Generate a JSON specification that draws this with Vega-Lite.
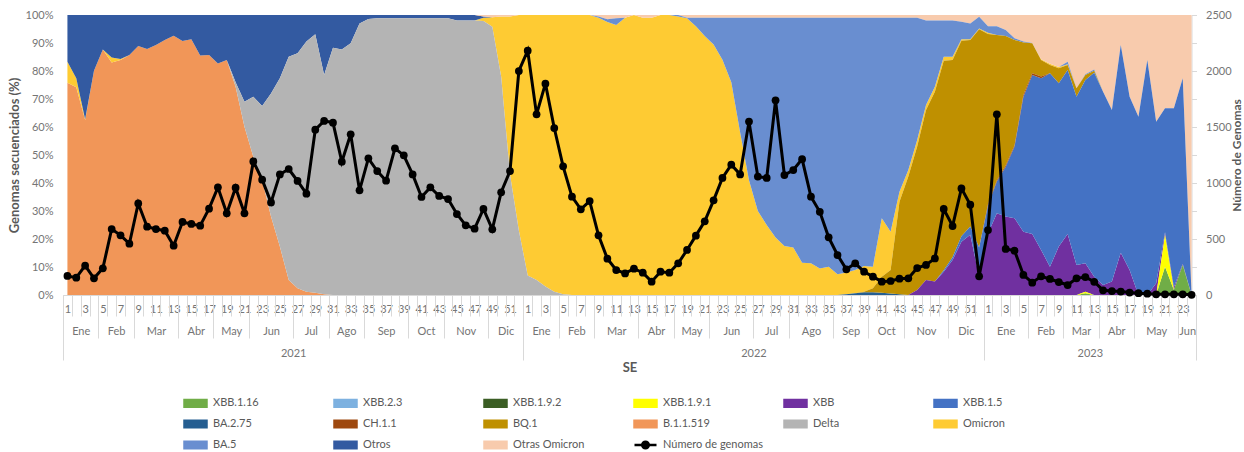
{
  "$schema": "https://vega.github.io/schema/vega-lite/v6.json",
  "width": 1133,
  "height": 280,
  "autosize": {"type": "none"},
  "padding": {"left": 63, "top": 15, "right": 48, "bottom": 157},
  "background": "white",
  "config": {
    "view": {"stroke": null},
    "font": "Lato",
    "axis": {"labelFont": "Lato", "titleFont": "Lato", "labelColor": "#757575", "titleColor": "#595959", "labelFontSize": 11, "titleFontSize": 13, "titleFontWeight": "bold", "grid": false, "labelFlush": false, "labelOverlap": false, "labelBound": false}
  },
  "datasets": {
    "series": [
      {"k": "a", "name": "XBB.1.16", "s": 1},
      {"k": "b", "name": "XBB.2.3", "s": 2},
      {"k": "c", "name": "XBB.1.9.2", "s": 3},
      {"k": "d", "name": "XBB.1.9.1", "s": 4},
      {"k": "e", "name": "XBB", "s": 5},
      {"k": "f", "name": "XBB.1.5", "s": 6},
      {"k": "g", "name": "BA.2.75", "s": 7},
      {"k": "h", "name": "CH.1.1", "s": 8},
      {"k": "k", "name": "BQ.1", "s": 9},
      {"k": "m", "name": "B.1.1.519", "s": 10},
      {"k": "dl", "name": "Delta", "s": 11},
      {"k": "o", "name": "Omicron", "s": 12},
      {"k": "b5", "name": "BA.5", "s": 13},
      {"k": "ot", "name": "Otros", "s": 14},
      {"k": "oo", "name": "Otras Omicron", "s": 15}
    ],
    "w": [
      {"i": 0, "n": 170, "m": 75.8, "o": 7.5, "ot": 16.7},
      {"i": 1, "n": 155, "m": 74.2, "o": 3.2, "ot": 22.6},
      {"i": 2, "n": 262, "m": 62.5, "o": 0.3, "ot": 37.2},
      {"i": 3, "n": 149, "m": 80.1, "ot": 19.9},
      {"i": 4, "n": 238, "m": 87.7, "ot": 12.3},
      {"i": 5, "n": 589, "m": 83, "o": 1.8, "ot": 15.2},
      {"i": 6, "n": 533, "m": 83.9, "o": 0.4, "ot": 15.7},
      {"i": 7, "n": 458, "m": 85.7, "ot": 14.3},
      {"i": 8, "n": 818, "m": 88.9, "ot": 11.1},
      {"i": 9, "n": 610, "m": 87.9, "ot": 12.1},
      {"i": 10, "n": 589, "m": 89.3, "ot": 10.7},
      {"i": 11, "n": 574, "m": 91.1, "ot": 8.9},
      {"i": 12, "n": 440, "m": 92.6, "ot": 7.4},
      {"i": 13, "n": 652, "m": 90.7, "ot": 9.3},
      {"i": 14, "n": 634, "m": 91.3, "ot": 8.7},
      {"i": 15, "n": 619, "m": 85.5, "ot": 14.5},
      {"i": 16, "n": 771, "m": 85.7, "ot": 14.3},
      {"i": 17, "n": 961, "m": 82.7, "ot": 17.3},
      {"i": 18, "n": 729, "m": 83.9, "ot": 16.1},
      {"i": 19, "n": 958, "m": 74.4, "dl": 1.6, "ot": 24},
      {"i": 20, "n": 729, "m": 60.1, "dl": 8.9, "ot": 31},
      {"i": 21, "n": 1193, "m": 49.4, "dl": 21.4, "ot": 29.2},
      {"i": 22, "n": 1030, "m": 41.1, "dl": 26.4, "ot": 32.5},
      {"i": 23, "n": 827, "m": 28, "dl": 44, "ot": 28},
      {"i": 24, "n": 1077, "m": 17.3, "dl": 60.1, "ot": 22.6},
      {"i": 25, "n": 1125, "m": 5.4, "dl": 79.7, "ot": 14.9},
      {"i": 26, "n": 1018, "m": 2.4, "dl": 83.9, "ot": 13.7},
      {"i": 27, "n": 905, "m": 1.2, "dl": 89.3, "ot": 9.5},
      {"i": 28, "n": 1476, "m": 0.8, "dl": 92.3, "ot": 6.9},
      {"i": 29, "n": 1554, "m": 0.3, "dl": 78.3, "ot": 21.4},
      {"i": 30, "n": 1539, "dl": 88.3, "ot": 11.7},
      {"i": 31, "n": 1190, "dl": 87.7, "ot": 12.3},
      {"i": 32, "n": 1435, "dl": 89.9, "ot": 10.1},
      {"i": 33, "n": 935, "dl": 97, "ot": 3},
      {"i": 34, "n": 1220, "dl": 98.6, "ot": 1.4},
      {"i": 35, "n": 1107, "dl": 98.8, "ot": 1.2},
      {"i": 36, "n": 1021, "dl": 98.8, "ot": 1.2},
      {"i": 37, "n": 1310, "dl": 98.8, "ot": 1.2},
      {"i": 38, "n": 1247, "dl": 98.8, "ot": 1.2},
      {"i": 39, "n": 1077, "dl": 98.8, "ot": 1.2},
      {"i": 40, "n": 875, "dl": 98.8, "ot": 1.2},
      {"i": 41, "n": 961, "dl": 98.8, "ot": 1.2},
      {"i": 42, "n": 884, "dl": 98.8, "ot": 1.2},
      {"i": 43, "n": 857, "dl": 98.8, "ot": 1.2},
      {"i": 44, "n": 723, "dl": 98, "ot": 2},
      {"i": 45, "n": 622, "dl": 98, "ot": 2},
      {"i": 46, "n": 592, "dl": 98, "ot": 2},
      {"i": 47, "n": 768, "dl": 97.9, "o": 1.1, "ot": 0.5, "oo": 0.5},
      {"i": 48, "n": 586, "dl": 95.8, "o": 3.4, "oo": 0.8},
      {"i": 49, "n": 917, "dl": 78, "o": 21.5, "oo": 0.5},
      {"i": 50, "n": 1107, "dl": 43, "o": 56.5, "oo": 0.5},
      {"i": 51, "n": 2000, "dl": 23, "o": 77},
      {"i": 52, "n": 2181, "dl": 7, "o": 93},
      {"i": 53, "n": 1613, "dl": 5.4, "o": 94.6},
      {"i": 54, "n": 1887, "dl": 3, "o": 97},
      {"i": 55, "n": 1491, "dl": 1.2, "o": 98.8},
      {"i": 56, "n": 1149, "dl": 0.3, "o": 99.7},
      {"i": 57, "n": 878, "o": 100},
      {"i": 58, "n": 765, "o": 100},
      {"i": 59, "n": 839, "o": 100},
      {"i": 60, "n": 533, "o": 99, "b5": 0.5, "oo": 0.5},
      {"i": 61, "n": 324, "o": 97.5, "b5": 1, "oo": 1.5},
      {"i": 62, "n": 223, "o": 96.4, "b5": 2.4, "oo": 1.2},
      {"i": 63, "n": 193, "o": 99, "oo": 1},
      {"i": 64, "n": 235, "o": 100},
      {"i": 65, "n": 199, "o": 99, "oo": 1},
      {"i": 66, "n": 119, "o": 99, "oo": 1},
      {"i": 67, "n": 208, "o": 100},
      {"i": 68, "n": 199, "o": 100},
      {"i": 69, "n": 283, "o": 99.5, "b5": 0.5},
      {"i": 70, "n": 402, "o": 98.8, "b5": 0.2, "oo": 1},
      {"i": 71, "n": 530, "o": 96, "b5": 3, "oo": 1},
      {"i": 72, "n": 658, "o": 92.5, "b5": 6.5, "oo": 1},
      {"i": 73, "n": 845, "o": 89.5, "b5": 9.5, "oo": 1},
      {"i": 74, "n": 1045, "o": 84, "b5": 15, "oo": 1},
      {"i": 75, "n": 1164, "o": 76, "b5": 23, "oo": 1},
      {"i": 76, "n": 1077, "o": 58, "b5": 41, "oo": 1},
      {"i": 77, "n": 1548, "o": 41, "b5": 58, "oo": 1},
      {"i": 78, "n": 1057, "o": 30, "b5": 69, "oo": 1},
      {"i": 79, "n": 1045, "o": 25, "b5": 74, "oo": 1},
      {"i": 80, "n": 1738, "o": 20.5, "b5": 78.5, "oo": 1},
      {"i": 81, "n": 1071, "o": 17.5, "b5": 81.5, "oo": 1},
      {"i": 82, "n": 1116, "o": 17, "b5": 82, "oo": 1},
      {"i": 83, "n": 1213, "o": 11.5, "b5": 87.5, "oo": 1},
      {"i": 84, "n": 878, "o": 11.3, "b5": 87.7, "oo": 1},
      {"i": 85, "n": 743, "o": 9.5, "b5": 89.5, "oo": 1},
      {"i": 86, "n": 515, "o": 10.1, "b5": 88.9, "oo": 1},
      {"i": 87, "n": 357, "o": 7.4, "b5": 91.6, "oo": 1},
      {"i": 88, "n": 229, "g": 0.3, "o": 7.7, "b5": 91, "oo": 1},
      {"i": 89, "n": 283, "g": 0.6, "o": 8.3, "b5": 90.1, "oo": 1},
      {"i": 90, "n": 208, "g": 1, "k": 0.2, "o": 9.2, "b5": 88.6, "oo": 1},
      {"i": 91, "n": 164, "g": 1, "k": 1.4, "o": 7.7, "b5": 88.9, "oo": 1},
      {"i": 92, "n": 119, "g": 0.8, "k": 5.7, "o": 20.9, "b5": 71.6, "oo": 1},
      {"i": 93, "n": 125, "g": 0.5, "k": 8.4, "o": 13.7, "b5": 76.4, "oo": 1},
      {"i": 94, "n": 146, "g": 0.3, "k": 33, "o": 3.6, "b5": 62.1, "oo": 1},
      {"i": 95, "n": 149, "k": 42.3, "o": 2.3, "b5": 54.4, "oo": 1},
      {"i": 96, "n": 241, "e": 1.8, "k": 51.2, "o": 2.4, "b5": 43.6, "oo": 1},
      {"i": 97, "n": 268, "e": 5.4, "k": 60.7, "o": 1.8, "b5": 30.1, "oo": 2},
      {"i": 98, "n": 327, "e": 4.8, "k": 67.8, "o": 1.8, "b5": 23.6, "oo": 2},
      {"i": 99, "n": 768, "e": 8.3, "f": 0.5, "k": 74.9, "o": 1.4, "b5": 12.9, "oo": 2},
      {"i": 100, "n": 616, "e": 12.5, "f": 1, "k": 70.4, "o": 1.2, "b5": 12.9, "oo": 2},
      {"i": 101, "n": 952, "e": 19, "f": 2, "k": 69.8, "o": 0.5, "b5": 6.3, "oo": 2.4},
      {"i": 102, "n": 806, "e": 21.5, "f": 3, "k": 66.6, "o": 0.2, "b5": 5.7, "oo": 3},
      {"i": 103, "n": 167, "e": 6.5, "f": 10.5, "k": 77.9, "o": 0.3, "b5": 4.2, "oo": 0.6},
      {"i": 104, "n": 580, "e": 22, "f": 10, "h": 0.5, "k": 60.7, "o": 0.5, "b5": 2.3, "oo": 4},
      {"i": 105, "n": 1613, "e": 29.2, "f": 11.3, "h": 0.5, "k": 51.9, "b5": 3.1, "oo": 4},
      {"i": 106, "n": 411, "e": 28, "f": 17.8, "h": 0.5, "k": 46.2, "b5": 2.1, "oo": 5.4},
      {"i": 107, "n": 396, "e": 27.4, "f": 25.6, "h": 0.5, "k": 37.6, "b5": 0.6, "oo": 8.3},
      {"i": 108, "n": 179, "e": 22.6, "f": 48.2, "h": 0.7, "k": 18.7, "b5": 0.3, "oo": 9.5},
      {"i": 109, "n": 110, "e": 21.8, "f": 56.8, "h": 0.6, "k": 10.7, "b5": 0.1, "oo": 10},
      {"i": 110, "n": 167, "e": 16.1, "f": 61.3, "h": 0.6, "k": 5.9, "o": 0.3, "oo": 15.8},
      {"i": 111, "n": 143, "e": 10.1, "f": 69.1, "k": 2.9, "o": 0.5, "oo": 17.4},
      {"i": 112, "n": 116, "e": 17.3, "f": 58.3, "k": 5.4, "o": 0.4, "oo": 18.6},
      {"i": 113, "n": 89, "e": 21.8, "f": 58.6, "k": 1.7, "o": 0.3, "b5": 0.9, "oo": 16.7},
      {"i": 114, "n": 149, "e": 10.7, "f": 60.1, "k": 3, "oo": 26.2},
      {"i": 115, "n": 160, "a": 0.6, "d": 0.6, "e": 10.1, "f": 65.5, "k": 1.8, "b5": 0.2, "oo": 21.2},
      {"i": 116, "n": 118, "e": 6.5, "f": 72.9, "k": 0.7, "b5": 0.4, "oo": 19.5},
      {"i": 117, "n": 42, "e": 3.6, "f": 69, "oo": 27.4},
      {"i": 118, "n": 35, "e": 4.8, "f": 61.3, "oo": 33.9},
      {"i": 119, "n": 31, "e": 15.1, "f": 74.2, "oo": 10.7},
      {"i": 120, "n": 22, "e": 8.9, "f": 61.9, "oo": 29.2},
      {"i": 121, "n": 16, "f": 63.7, "oo": 36.3},
      {"i": 122, "n": 12, "f": 83.9, "oo": 16.1},
      {"i": 123, "n": 6, "e": 4.2, "f": 57.7, "oo": 38.1},
      {"i": 124, "n": 6, "a": 10.1, "d": 11.3, "e": 1, "f": 44.3, "oo": 33.3},
      {"i": 125, "n": 6, "a": 1.8, "e": 1, "f": 63.9, "oo": 33.3},
      {"i": 126, "n": 6, "a": 10.7, "e": 0.5, "f": 66.2, "oo": 22.6},
      {"i": 127, "n": 2, "oo": 100}
    ]
  },
  "layer": [
    {
      "data": {"name": "w"},
      "transform": [
        {"fold": ["a", "b", "c", "d", "e", "f", "g", "h", "k", "m", "dl", "o", "b5", "ot", "oo"], "as": ["key", "p"]},
        {"filter": "isValid(datum.p)"},
        {"lookup": "key", "from": {"data": {"name": "series"}, "key": "k", "fields": ["name", "s"]}},
        {"impute": "p", "key": "i", "groupby": ["name", "s"], "value": 0}
      ],
      "mark": {"type": "area", "opacity": 1, "interpolate": "linear"},
      "encoding": {
        "x": {
          "field": "i", "type": "quantitative",
          "scale": {"domain": [-0.5, 127.5], "nice": false, "zero": false},
          "axis": {
            "orient": "bottom",
            "values": [0,2,4,6,8,10,12,14,16,18,20,22,24,26,28,30,32,34,36,38,40,42,44,46,48,50,52,54,56,58,60,62,64,66,68,70,72,74,76,78,80,82,84,86,88,90,92,94,96,98,100,102,104,106,108,110,112,114,116,118,120,122,124,126],
            "labelExpr": "datum.value < 51.9 ? '' + (datum.value + 1) : (datum.value < 103.9 ? '' + (datum.value - 51) : '' + (datum.value - 103))",
            "ticks": false, "domain": false, "labelPadding": 8, "title": null
          }
        },
        "y": {
          "field": "p", "type": "quantitative", "stack": "zero",
          "scale": {"domain": [0, 100], "nice": false},
          "axis": {
            "orient": "left",
            "values": [0,10,20,30,40,50,60,70,80,90,100],
            "labelExpr": "datum.value + '%'",
            "ticks": false, "domain": false, "labelPadding": 10,
            "title": "Genomas secuenciados (%)", "titlePadding": 4
          }
        },
        "color": {
          "field": "name", "type": "nominal",
          "scale": {
            "domain": ["XBB.1.16", "XBB.2.3", "XBB.1.9.2", "XBB.1.9.1", "XBB", "XBB.1.5", "BA.2.75", "CH.1.1", "BQ.1", "B.1.1.519", "Delta", "Omicron", "BA.5", "Otros", "Otras Omicron", "Número de genomas"],
            "range": ["#70AD47", "#7DB1E0", "#3B5E24", "#FFFF00", "#7030A0", "#4472C4", "#255E91", "#9E480E", "#BF9000", "#F19658", "#B4B4B4", "#FECB33", "#698ED0", "#335AA1", "#F8CBAD", "#000000"]
          },
          "legend": {
            "orient": "none", "legendX": 120, "legendY": 381,
            "direction": "horizontal", "columns": 6, "title": null,
            "gridAlign": "all", "columnPadding": 16, "rowPadding": 3,
            "symbolType": "M-1,-0.6H3V0.6H-1Z", "symbolSize": 121, "labelOffset": 16,
            "labelFont": "Lato", "labelFontSize": 11, "labelColor": "#595959",
            "encode": {
              "symbols": {
                "update": {
                  "shape": {"signal": "indexof(datum.value, 'genomas') >= 0 ? 'M-1,0H3M0.4,0A0.6,0.6 0 1,0 1.6,0A0.6,0.6 0 1,0 0.4,0Z' : 'M-1,-0.6H3V0.6H-1Z'"},
                  "fill": {"signal": "scale('color', datum.value)"},
                  "stroke": {"signal": "indexof(datum.value, 'genomas') >= 0 ? '#000000' : 'transparent'"},
                  "strokeWidth": {"value": 2.5},
                  "opacity": {"value": 1},
                  "fillOpacity": {"value": 1}
                }
              }
            }
          }
        },
        "order": {"field": "s", "type": "quantitative"}
      }
    },
    {
      "data": {"name": "w"},
      "mark": {"type": "line", "strokeWidth": 3, "point": {"filled": true, "size": 60}},
      "encoding": {
        "x": {
          "field": "i", "type": "quantitative",
          "scale": {"domain": [-0.5, 127.5], "nice": false, "zero": false},
          "axis": {
            "orient": "bottom",
            "values": [-0.5,0.5,1.5,2.5,3.5,4.5,5.5,6.5,7.5,8.5,9.5,10.5,11.5,12.5,13.5,14.5,15.5,16.5,17.5,18.5,19.5,20.5,21.5,22.5,23.5,24.5,25.5,26.5,27.5,28.5,29.5,30.5,31.5,32.5,33.5,34.5,35.5,36.5,37.5,38.5,39.5,40.5,41.5,42.5,43.5,44.5,45.5,46.5,47.5,48.5,49.5,50.5,51.5,52.5,53.5,54.5,55.5,56.5,57.5,58.5,59.5,60.5,61.5,62.5,63.5,64.5,65.5,66.5,67.5,68.5,69.5,70.5,71.5,72.5,73.5,74.5,75.5,76.5,77.5,78.5,79.5,80.5,81.5,82.5,83.5,84.5,85.5,86.5,87.5,88.5,89.5,90.5,91.5,92.5,93.5,94.5,95.5,96.5,97.5,98.5,99.5,100.5,101.5,102.5,103.5,104.5,105.5,106.5,107.5,108.5,109.5,110.5,111.5,112.5,113.5,114.5,115.5,116.5,117.5,118.5,119.5,120.5,121.5,122.5,123.5,124.5,125.5,126.5,127.5],
            "labels": false, "ticks": true, "tickSize": 21, "tickColor": "#D9D9D9",
            "domain": true, "domainColor": "#D9D9D9", "title": null
          }
        },
        "y": {
          "field": "n", "type": "quantitative",
          "scale": {"domain": [0, 2500], "nice": false},
          "axis": {
            "orient": "right", "offset": -4.5,
            "values": [0,250,500,750,1000,1250,1500,1750,2000,2250,2500],
            "labelExpr": "datum.value % 500 === 0 ? '' + datum.value : ''",
            "ticks": true, "tickSize": 5, "tickColor": "#D9D9D9",
            "domain": true, "domainColor": "#D9D9D9", "labelPadding": 9,
            "title": "Número de Genomas", "titlePadding": 12, "titleAngle": 270, "titleFontSize": 12
          }
        },
        "color": {
          "datum": "Número de genomas",
          "legend": {
            "orient": "none", "legendX": 120, "legendY": 381,
            "direction": "horizontal", "columns": 6, "title": null,
            "gridAlign": "all", "columnPadding": 16, "rowPadding": 3,
            "symbolType": "M-1,-0.6H3V0.6H-1Z", "symbolSize": 121, "labelOffset": 16,
            "labelFont": "Lato", "labelFontSize": 11, "labelColor": "#595959",
            "encode": {
              "symbols": {
                "update": {
                  "shape": {"signal": "indexof(datum.value, 'genomas') >= 0 ? 'M-1,0H3M0.4,0A0.6,0.6 0 1,0 1.6,0A0.6,0.6 0 1,0 0.4,0Z' : 'M-1,-0.6H3V0.6H-1Z'"},
                  "fill": {"signal": "scale('color', datum.value)"},
                  "stroke": {"signal": "indexof(datum.value, 'genomas') >= 0 ? '#000000' : 'transparent'"},
                  "strokeWidth": {"value": 2.5},
                  "opacity": {"value": 1},
                  "fillOpacity": {"value": 1}
                }
              }
            }
          }
        }
      }
    },
    {
      "data": {"name": "w"},
      "mark": {"type": "point", "opacity": 0},
      "encoding": {
        "x": {
          "field": "i", "type": "quantitative",
          "scale": {"domain": [-0.5, 127.5], "nice": false, "zero": false},
          "axis": {
            "orient": "bottom",
            "values": [1.5,5.5,10,14.5,18.5,23,27.5,31.5,36,40.5,45,49.5,53.5,57.5,62,66.5,70.5,75,79.5,84,88.5,92.5,97,101.5,106,110.5,114.5,118.5,123,126.5],
            "labelExpr": "['Ene','Feb','Mar','Abr','May','Jun','Jul','Ago','Sep','Oct','Nov','Dic'][indexof([1.5,5.5,10,14.5,18.5,23,27.5,31.5,36,40.5,45,49.5,53.5,57.5,62,66.5,70.5,75,79.5,84,88.5,92.5,97,101.5,106,110.5,114.5,118.5,123,126.5], datum.value) % 12]",
            "ticks": false, "domain": false, "labelPadding": 30, "title": null
          }
        }
      }
    },
    {
      "data": {"name": "w"},
      "mark": {"type": "point", "opacity": 0},
      "encoding": {
        "x": {
          "field": "i", "type": "quantitative",
          "scale": {"domain": [-0.5, 127.5], "nice": false, "zero": false},
          "axis": {
            "orient": "bottom",
            "values": [-0.5,3.5,7.5,12.5,16.5,20.5,25.5,29.5,33.5,38.5,42.5,47.5,51.5,55.5,59.5,64.5,68.5,72.5,77.5,81.5,86.5,90.5,94.5,99.5,103.5,108.5,112.5,116.5,120.5,125.5,127.5],
            "labels": false, "ticks": true, "tickSize": 43, "tickColor": "#D9D9D9",
            "domain": false, "title": null
          }
        }
      }
    },
    {
      "data": {"name": "w"},
      "mark": {"type": "point", "opacity": 0},
      "encoding": {
        "x": {
          "field": "i", "type": "quantitative",
          "scale": {"domain": [-0.5, 127.5], "nice": false, "zero": false},
          "axis": {
            "orient": "bottom",
            "values": [25.5, 77.5, 115.5],
            "labelExpr": "datum.value < 50 ? '2021' : (datum.value < 100 ? '2022' : '2023')",
            "ticks": false, "domain": false, "labelPadding": 52,
            "title": "SE", "titlePadding": 3, "titleFontSize": 13, "titleColor": "#595959"
          }
        }
      }
    },
    {
      "data": {"name": "w"},
      "mark": {"type": "point", "opacity": 0},
      "encoding": {
        "x": {
          "field": "i", "type": "quantitative",
          "scale": {"domain": [-0.5, 127.5], "nice": false, "zero": false},
          "axis": {
            "orient": "bottom",
            "values": [-0.5, 51.5, 103.5, 127.5],
            "labels": false, "ticks": true, "tickSize": 65, "tickColor": "#D9D9D9",
            "domain": false, "title": null
          }
        }
      }
    }
  ],
  "resolve": {
    "scale": {"x": "independent", "y": "independent"},
    "axis": {"x": "independent", "y": "independent"}
  }
}
